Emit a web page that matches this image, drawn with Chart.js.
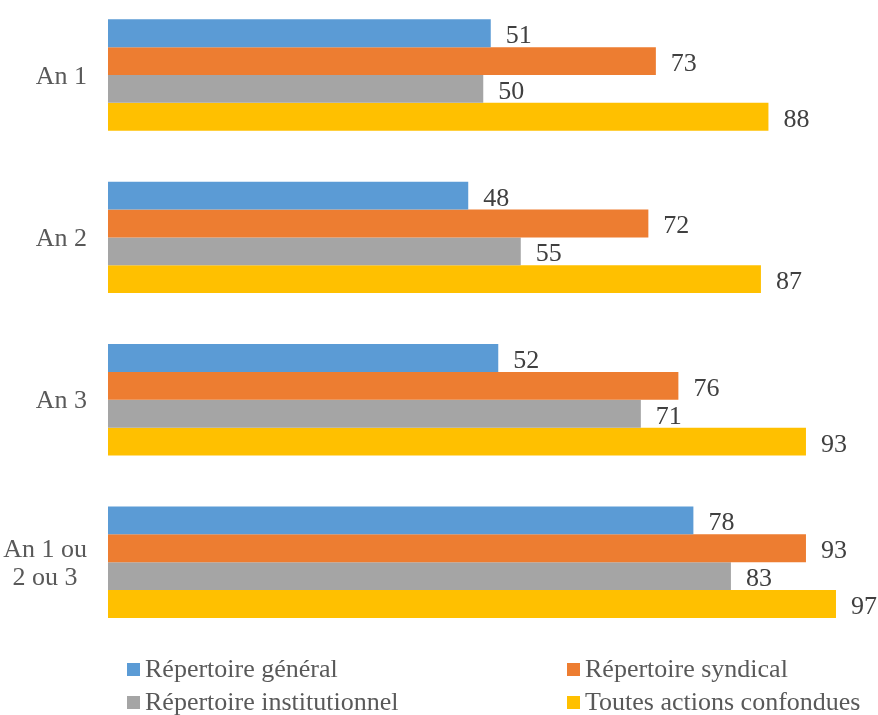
<!DOCTYPE html>
<html>
<head>
<meta charset="utf-8">
<script src="https://cdn.jsdelivr.net/npm/chart.js@4/dist/chart.umd.min.js"></script>
<style>
  html, body { margin: 0; padding: 0; background: #fff; }
  #wrap { width: 878px; height: 715px; }
</style>
</head>
<body>
<div id="wrap"><canvas id="c" width="878" height="715"></canvas></div>
<script>
const categories = [["An 1"], ["An 2"], ["An 3"], ["An 1 ou", "2 ou 3"]];
const seriesNames = ["Répertoire général", "Répertoire syndical", "Répertoire institutionnel", "Toutes actions confondues"];
const repertoireGeneral = [51, 48, 52, 78];
const repertoireSyndical = [73, 72, 76, 93];
const repertoireInstitutionnel = [50, 55, 71, 83];
const toutesActions = [88, 87, 93, 97];
const colors = ["#5B9BD5", "#ED7D31", "#A5A5A5", "#FFC000"];
const seriesValues = [repertoireGeneral, repertoireSyndical, repertoireInstitutionnel, toutesActions];

const FONT_STR = "26px 'Liberation Serif'";
Chart.defaults.font.family = "'Liberation Serif'";
Chart.defaults.font.size = 26;

const labelPlugin = {
  id: 'customLabels',
  afterDraw(chart) {
    const ctx = chart.ctx;
    ctx.save();
    ctx.font = FONT_STR;
    ctx.fillStyle = "#404040";
    ctx.textAlign = "left";
    ctx.textBaseline = "alphabetic";
    chart.data.datasets.forEach((ds, di) => {
      const meta = chart.getDatasetMeta(di);
      meta.data.forEach((bar, i) => {
        ctx.fillText(String(ds.data[i]), bar.x + 15, bar.y + 10);
      });
    });
    const yScale = chart.scales.y;
    ctx.fillStyle = "#595959";
    ctx.textAlign = "center";
    const rightEdge = 87;
    const lineH = 28;
    chart.data.labels.forEach((lab, i) => {
      const lines = Array.isArray(lab) ? lab : [lab];
      const w = Math.max(...lines.map(l => ctx.measureText(l).width));
      const cx = rightEdge - w / 2;
      const cy = yScale.getPixelForValue(i);
      const startY = cy + 8.5 - (lines.length - 1) * lineH / 2;
      lines.forEach((l, k) => ctx.fillText(l, cx, startY + k * lineH));
    });
    const legendPos = [[127, 663], [567, 663], [127, 696], [567, 696]];
    ctx.textAlign = "left";
    seriesNames.forEach((name, i) => {
      const [x, y] = legendPos[i];
      ctx.fillStyle = colors[i];
      ctx.fillRect(x, y, 13, 13);
      ctx.fillStyle = "#595959";
      ctx.fillText(name, x + 18, y + 14);
    });
    ctx.restore();
  }
};

new Chart(document.getElementById('c'), {
  type: 'bar',
  data: {
    labels: categories,
    datasets: seriesNames.map((name, i) => ({
      label: name,
      data: seriesValues[i],
      backgroundColor: colors[i],
      borderWidth: 0,
      categoryPercentage: 0.686,
      barPercentage: 1.0,
      clip: false
    }))
  },
  options: {
    indexAxis: 'y',
    responsive: false,
    animation: false,
    layout: { padding: { left: 108, right: 19.5, top: 75, bottom: 152.8 } },
    plugins: { legend: { display: false }, tooltip: { enabled: false } },
    scales: {
      x: { display: false, min: 0, max: 100 },
      y: { display: false, offset: false, grid: { display: false } }
    }
  },
  plugins: [labelPlugin]
});
</script>
</body>
</html>
